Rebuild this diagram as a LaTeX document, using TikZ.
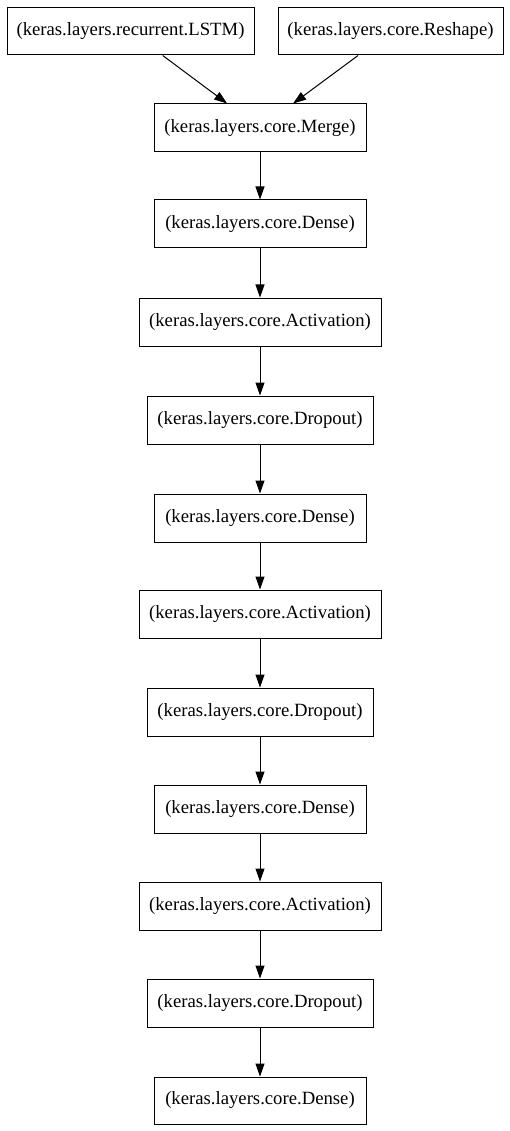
\documentclass[tikz,border=0pt]{standalone}
\usepackage{fontspec}
\setmainfont{Liberation Serif}
\usetikzlibrary{arrows.meta}
\tikzset{layer/.style = {draw, fill=white, line width=1pt, rectangle, minimum height=48pt, inner sep=0pt, font=\fontsize{18.7}{21}\selectfont},
         flow/.style = {-{Triangle[length=13pt,width=9pt]}, line width=1pt}}

\begin{document}
\begin{tikzpicture}[x=1pt,y=-1pt]
        \useasboundingbox (0,0) rectangle (510,1131);

        % inputs
        \node[layer,minimum width=247pt,minimum height=47pt] (lstm) at (130.5,31.5) {(keras.layers.recurrent.LSTM)};
        \node[layer,minimum width=225pt,minimum height=47pt] (reshape) at (390.5,31.5) {(keras.layers.core.Reshape)};

        % stack
        \node[layer,minimum width=212pt] (merge) at (260,128) {(keras.layers.core.Merge)};
        \node[layer,minimum width=212pt] (dense1) at (260,224) {(keras.layers.core.Dense)};
        \node[layer,minimum width=242pt] (act1) at (260,322) {(keras.layers.core.Activation)};
        \node[layer,minimum width=226pt] (drop1) at (260,420) {(keras.layers.core.Dropout)};
        \node[layer,minimum width=212pt] (dense2) at (260,518) {(keras.layers.core.Dense)};
        \node[layer,minimum width=242pt] (act2) at (260,614) {(keras.layers.core.Activation)};
        \node[layer,minimum width=226pt] (drop2) at (260,712) {(keras.layers.core.Dropout)};
        \node[layer,minimum width=212pt] (dense3) at (260,809) {(keras.layers.core.Dense)};
        \node[layer,minimum width=242pt] (act3) at (260,906) {(keras.layers.core.Activation)};
        \node[layer,minimum width=226pt] (drop3) at (260,1003) {(keras.layers.core.Dropout)};
        \node[layer,minimum width=212pt,minimum height=47pt] (dense4) at (260,1100.5) {(keras.layers.core.Dense)};

        \draw[flow] (lstm) -- (merge);
        \draw[flow] (reshape) -- (merge);
        \foreach \a/\b in {merge/dense1,dense1/act1,act1/drop1,drop1/dense2,dense2/act2,act2/drop2,drop2/dense3,dense3/act3,act3/drop3,drop3/dense4}
            \draw[flow] (\a) -- (\b);
\end{tikzpicture}
\end{document}
